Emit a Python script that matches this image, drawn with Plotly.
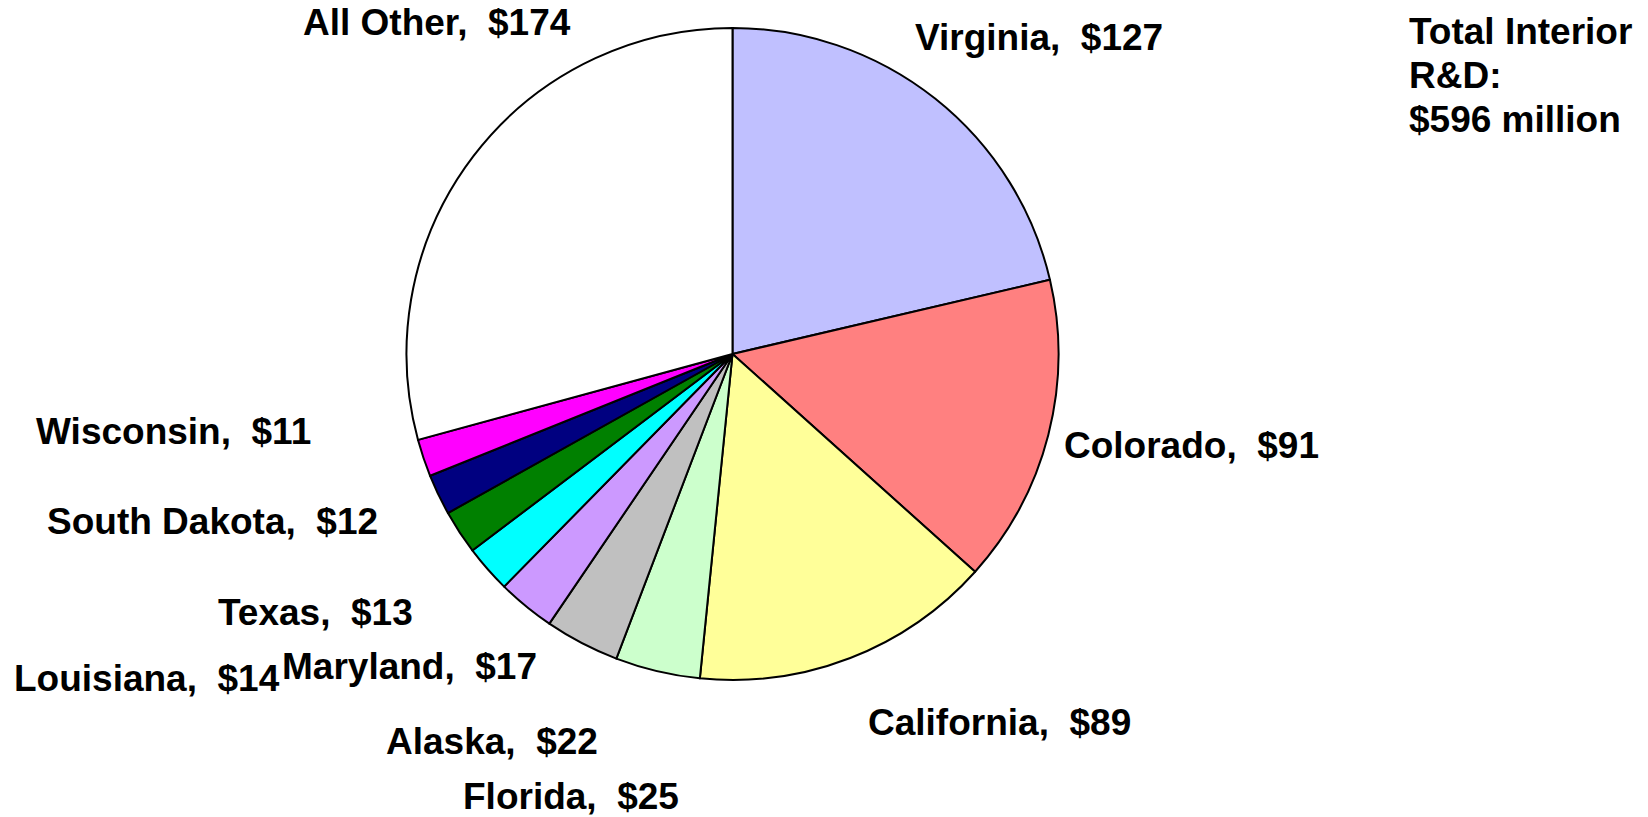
import plotly.graph_objects as go

states = ["Virginia", "Colorado", "California", "Florida", "Alaska", "Maryland",
          "Louisiana", "Texas", "South Dakota", "Wisconsin", "All Other"]
values = [127, 91, 89, 25, 22, 17, 14, 13, 12, 11, 174]
colors = ["#C0C0FF", "#FF8080", "#FFFF99", "#CCFFCC", "#C0C0C0", "#CC99FF",
          "#00FFFF", "#008000", "#000080", "#FF00FF", "#FFFFFF"]
total_text = ["Total Interior", "R&D:", "$596 million"]

W, H = 1648, 817
# label centre positions in pixels (layout only)
label_pos = [(1039, 37), (1191, 445), (1000, 722), (571, 796), (492, 741), (409, 666),
             (147, 678), (315, 612), (212, 521), (173, 431), (437, 23)]
total_line_y = [32, 76, 120]

cx, cy, r = 732.5, 354, 326

fig = go.Figure(go.Pie(
    labels=states, values=values, sort=False, direction="clockwise", rotation=0,
    marker=dict(colors=colors, line=dict(color="black", width=2)),
    textinfo="none", hoverinfo="label+value", showlegend=False,
    domain=dict(x=[(cx - r) / W, (cx + r) / W], y=[1 - (cy + r) / H, 1 - (cy - r) / H]),
))

font = dict(family="Liberation Sans, Arial, sans-serif", size=37, color="black", weight="bold")
for name, val, (px, py) in zip(states, values, label_pos):
    fig.add_annotation(x=px / W, y=1 - py / H, xref="paper", yref="paper",
                       text=f"{name},  ${val}", showarrow=False, font=font,
                       xanchor="center", yanchor="middle")

for line, py in zip(total_text, total_line_y):
    fig.add_annotation(x=1407 / W, y=1 - py / H, xref="paper", yref="paper",
                       text=line, showarrow=False, font=font,
                       xanchor="left", yanchor="middle", align="left")

fig.update_layout(width=W, height=H, margin=dict(l=0, r=0, t=0, b=0),
                  paper_bgcolor="white", plot_bgcolor="white")
fig.write_html("out.html")
